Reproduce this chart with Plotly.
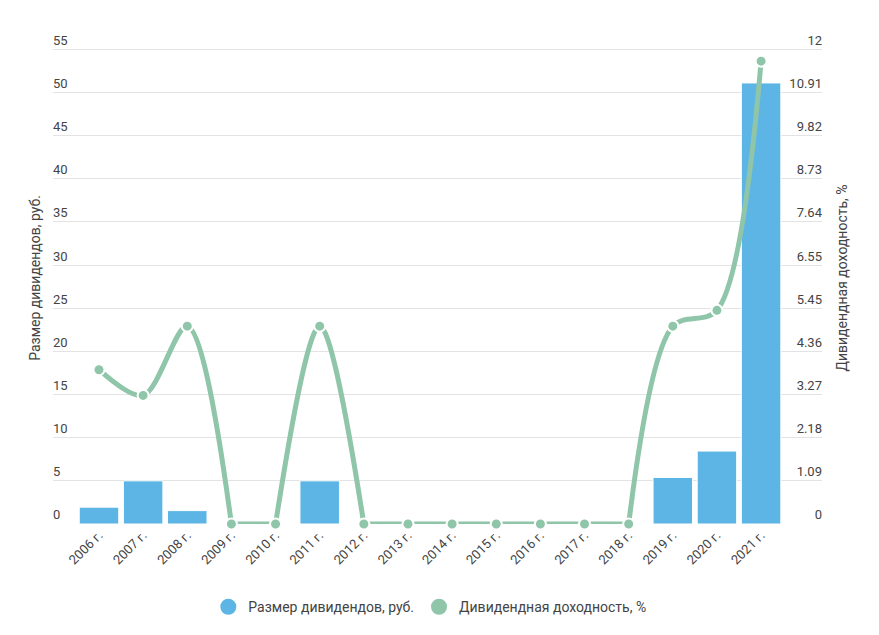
import plotly.graph_objects as go

years = ["2006 г.", "2007 г.", "2008 г.", "2009 г.", "2010 г.", "2011 г.", "2012 г.", "2013 г.",
         "2014 г.", "2015 г.", "2016 г.", "2017 г.", "2018 г.", "2019 г.", "2020 г.", "2021 г."]
dividends = [1.95, 5.0, 1.55, 0, 0, 5.0, 0, 0, 0, 0, 0, 0, 0, 5.4, 8.45, 51.1]
yield_pct = [3.9, 3.25, 5.0, 0, 0, 5.0, 0, 0, 0, 0, 0, 0, 0, 5.0, 5.4, 11.7]
y1_max = 55
y2_max = 12
y2_tickvals = [0, 12/11, 24/11, 36/11, 48/11, 60/11, 72/11, 84/11, 96/11, 108/11, 120/11, 12]
y2_ticktext = ["0", "1.09", "2.18", "3.27", "4.36", "5.45", "6.55", "7.64", "8.73", "9.82", "10.91", "12"]

BAR_C = "#5db5e5"
LINE_C = "#8fc5a8"
FONT = "Roboto"

# head-room above the top grid line so its tick label fits inside the plot
head = 57 / 55

bar_show = [d if d > 0 else None for d in dividends]

fig = go.Figure()
fig.add_trace(go.Bar(x=years, y=bar_show, marker=dict(color=BAR_C, line=dict(color="white", width=1)),
                     showlegend=False, name="Размер дивидендов, руб."))

# split the yield line at its zero stretches so the smoothing does not dip below zero
n = len(yield_pct)
runs = []
i = 0
while i < n:
    if yield_pct[i] == 0:
        j = i
        while j + 1 < n and yield_pct[j + 1] == 0:
            j += 1
        if j > i:
            runs.append((i, j, "linear"))
        i = j + 1
    else:
        j = i
        while j + 1 < n and yield_pct[j + 1] != 0:
            j += 1
        a = i - 1 if i > 0 else i
        b = j + 1 if j + 1 < n else j
        runs.append((a, b, "spline"))
        i = j + 1

for a, b, shape in runs:
    fig.add_trace(go.Scatter(x=years[a:b + 1], y=yield_pct[a:b + 1], yaxis="y2", mode="lines",
                             line=dict(color=LINE_C, width=5, shape=shape, smoothing=0.9),
                             showlegend=False, hoverinfo="skip", cliponaxis=False))
fig.add_trace(go.Scatter(x=years, y=yield_pct, yaxis="y2", mode="markers",
                         marker=dict(color=LINE_C, size=11, line=dict(color="white", width=2)),
                         showlegend=False, name="Дивидендная доходность, %", cliponaxis=False))
fig.add_trace(go.Scatter(x=[None], y=[None], mode="markers", name="Размер дивидендов, руб.",
                         marker=dict(color=BAR_C, size=18, symbol="circle")))
fig.add_trace(go.Scatter(x=[None], y=[None], mode="markers", name="Дивидендная доходность, %",
                         marker=dict(color=LINE_C, size=18, symbol="circle")))

fig.update_layout(
    width=879, height=635,
    margin=dict(l=53, r=57, t=32, b=111),
    paper_bgcolor="white", plot_bgcolor="white",
    font=dict(family=FONT, size=13, color="#444"),
    bargap=0.105,
    xaxis=dict(type="category", range=[-1.042, 16.38], tickangle=-45, showgrid=False,
               tickfont=dict(size=13, color="#444"), ticks="", zeroline=False, fixedrange=True),
    yaxis=dict(range=[0, y1_max * head], dtick=5, gridcolor="#e3e3e3", gridwidth=1, zeroline=False,
               ticklabelposition="inside top", ticklabelstandoff=-3, tickfont=dict(size=13, color="#444"),
               title=dict(text="Размер дивидендов, руб.", standoff=9, font=dict(size=14, color="#444"))),
    yaxis2=dict(range=[0, y2_max * head], overlaying="y", side="right", tickvals=y2_tickvals,
                ticktext=y2_ticktext, showgrid=False, zeroline=False, ticklabelposition="inside top",
                ticklabelstandoff=-3, tickfont=dict(size=13, color="#444"),
                title=dict(text="Дивидендная доходность, %", standoff=15, font=dict(size=14, color="#444"))),
    legend=dict(orientation="h", x=0.49, xanchor="center", y=-0.169, yanchor="middle",
                font=dict(size=14, color="#444"), itemsizing="trace"),
)
fig.write_html("out.html")
